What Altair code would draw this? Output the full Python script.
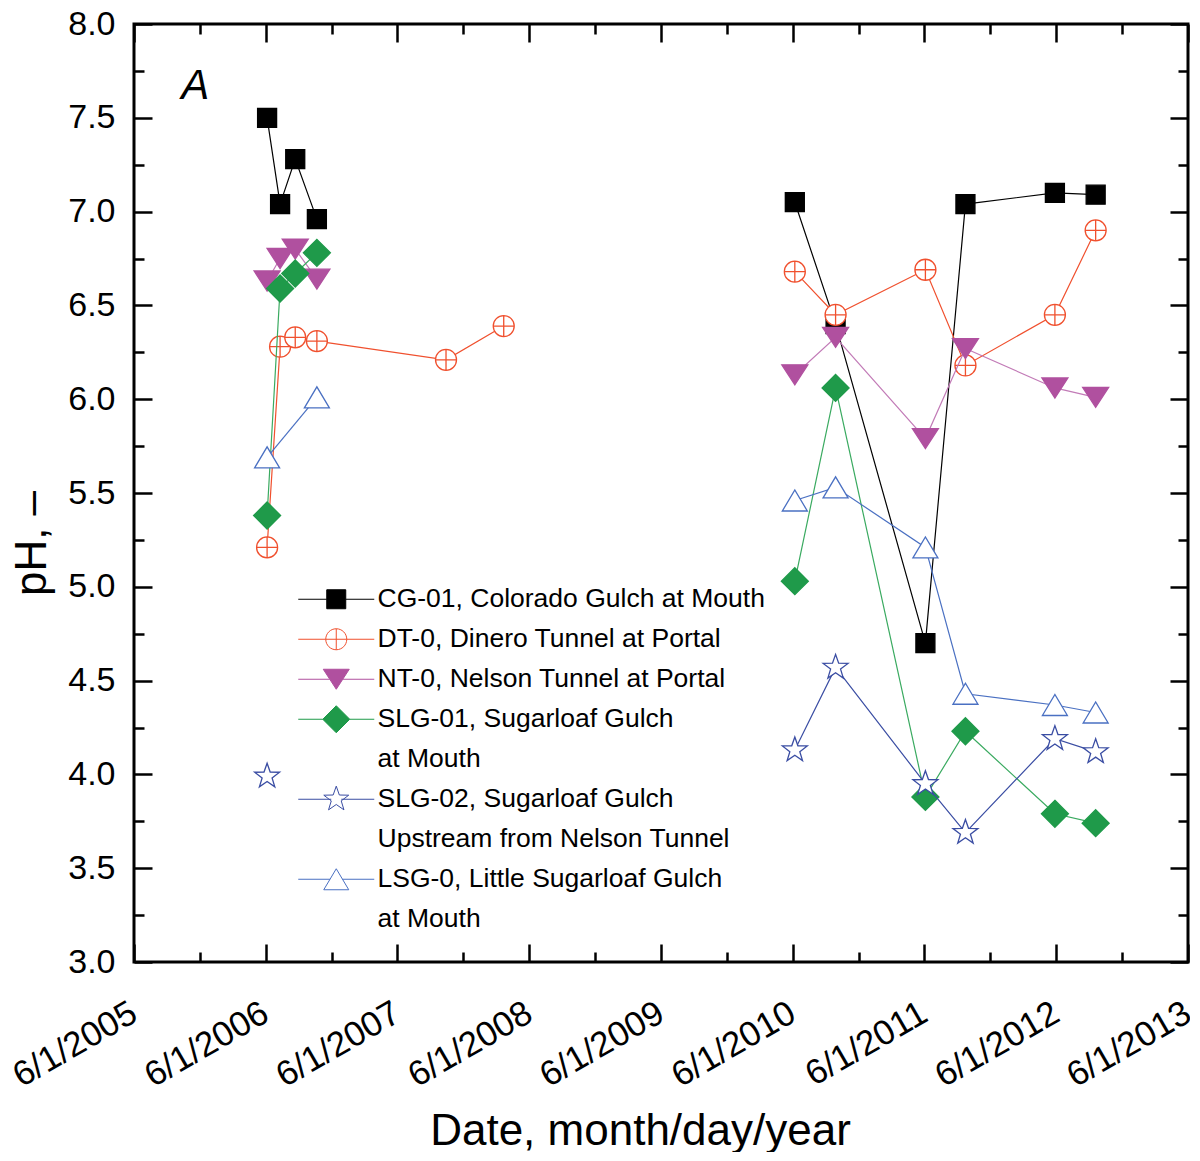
import altair as alt
import pandas as pd

# ---------------- data ----------------
SERIES = [
    "CG-01, Colorado Gulch at Mouth",
    "DT-0, Dinero Tunnel at Portal",
    "NT-0, Nelson Tunnel at Portal",
    "SLG-01, Sugarloaf Gulch",
    "SLG-02, Sugarloaf Gulch",
    "LSG-0, Little Sugarloaf Gulch",
]
# legend rows (second lines of the two-line entries are separate rows)
LEGEND_ROWS = [
    "CG-01, Colorado Gulch at Mouth",
    "DT-0, Dinero Tunnel at Portal",
    "NT-0, Nelson Tunnel at Portal",
    "SLG-01, Sugarloaf Gulch",
    "at Mouth",
    "SLG-02, Sugarloaf Gulch",
    "Upstream from Nelson Tunnel",
    "LSG-0, Little Sugarloaf Gulch",
    "at Mouth ",
]

dates_2006 = ["2006-06-05", "2006-07-11", "2006-08-22", "2006-10-21"]
dates_0708 = ["2007-10-14", "2008-03-22"]
dates_late = ["2010-06-07", "2010-09-28", "2011-06-04", "2011-09-23", "2012-05-28", "2012-09-18"]
dates_lsg_2006 = ["2006-06-05", "2006-10-21"]
dates_slg02_2006 = ["2006-06-05"]

cg_2006 = [7.50, 7.04, 7.28, 6.96]
cg_late = [7.05, 6.40, 4.70, 7.04, 7.10, 7.09]
dt_2006 = [5.21, 6.28, 6.33, 6.31]
dt_0708 = [6.21, 6.39]
dt_late = [6.68, 6.45, 6.69, 6.18, 6.45, 6.90]
nt_2006 = [6.63, 6.75, 6.80, 6.64]
nt_late = [6.13, 6.33, 5.79, 6.27, 6.06, 6.01]
slg01_2006 = [5.38, 6.59, 6.67, 6.78]
slg01_late = [5.03, 6.06, 3.88, 4.23, 3.79, 3.74]
slg02_2006 = [3.99]
slg02_late = [4.13, 4.57, 3.95, 3.69, 4.19, 4.12]
lsg_2006 = [5.69, 6.01]
lsg_late = [5.46, 5.53, 5.21, 4.43, 4.37, 4.33]

series_parts = {
    SERIES[0]: [(dates_2006, cg_2006, "a"), (dates_late, cg_late, "b")],
    SERIES[1]: [(dates_2006 + dates_0708, dt_2006 + dt_0708, "a"), (dates_late, dt_late, "b")],
    SERIES[2]: [(dates_2006, nt_2006, "a"), (dates_late, nt_late, "b")],
    SERIES[3]: [(dates_2006, slg01_2006, "a"), (dates_late, slg01_late, "b")],
    SERIES[4]: [(dates_slg02_2006, slg02_2006, "a"), (dates_late, slg02_late, "b")],
    SERIES[5]: [(dates_lsg_2006, lsg_2006, "a"), (dates_late, lsg_late, "b")],
}

rows = []
for name, parts in series_parts.items():
    for dts, vals, period in parts:
        for d, v in zip(dts, vals):
            rows.append({"series": name, "date": d + "T00:00:00", "pH": v, "period": period})
df = pd.DataFrame(rows)

major_years = list(range(2005, 2014))
minor_years = list(range(2005, 2013))
y_major = [3.0, 3.5, 4.0, 4.5, 5.0, 5.5, 6.0, 6.5, 7.0, 7.5, 8.0]
y_minor = [3.25, 3.75, 4.25, 4.75, 5.25, 5.75, 6.25, 6.75, 7.25, 7.75]

panel_label = "A"
panel_label_date = "2005-11-18T00:00:00"
panel_label_value = 7.60

# ---------------- styles ----------------
FONT = "Liberation Sans"
W, H = 1054, 938

COLORS = ["#000000", "#F0502E", "#B0509F", "#1F9A4A", "#3A4DA3", "#4A70C2"]
LINE_COLORS = ["#000000", "#F0502E", "#C27BB7", "#3AAA60", "#3A4DA3", "#4A70C2"]
FILLS = ["#000000", "#FFFFFF", "#B0509F", "#1F9A4A", "#FFFFFF", "#FFFFFF"]

SQ = "M-0.95,-0.95H0.95V0.95H-0.95Z"
CIRC = "M-1.05,0A1.05,1.05 0 1,1 1.05,0A1.05,1.05 0 1,1 -1.05,0ZM-1.05,0H1.05M0,-1.05V1.05"
TRI_D = "M-1.3,-1L1.3,-1L0,1Z"
DIAM = "M0,-1.35L1.35,0L0,1.35L-1.35,0Z"
STAR = ("M0,-1.31L0.308,-0.424L1.246,-0.405L0.498,0.162L0.77,1.06L0,0.524"
        "L-0.77,1.06L-0.498,0.162L-1.246,-0.405L-0.308,-0.424Z")
TRI_U = "M-1.25,1.05L1.25,1.05L0,-1.05Z"
SHAPES = [SQ, CIRC, TRI_D, DIAM, STAR, TRI_U]
EDGES = [0.95, 1.05, 0.65, 1.35, 0.5, 0.62]

def with_line(path, edge):
    return f"M-3.8,0H-{edge}M{edge},0H3.8" + path

LEG_SHAPES = [with_line(s, e) for s, e in zip(SHAPES, EDGES)]
LEGEND_STROKES = [COLORS[0], COLORS[1], COLORS[2], COLORS[3], "transparent",
                  COLORS[4], "transparent", COLORS[5], "transparent"]
LEGEND_FILLS = [FILLS[0], FILLS[1], FILLS[2], FILLS[3], "transparent",
                FILLS[4], "transparent", FILLS[5], "transparent"]
LEGEND_SHAPE_RANGE = [LEG_SHAPES[0], LEG_SHAPES[1], LEG_SHAPES[2], LEG_SHAPES[3], "M0,0",
                      LEG_SHAPES[4], "M0,0", LEG_SHAPES[5], "M0,0"]

X_SCALE = alt.Scale(domain=[alt.DateTime(year=2005, month=6, date=1),
                            alt.DateTime(year=2013, month=6, date=1)], nice=False)
Y_SCALE = alt.Scale(domain=[3, 8], nice=False, zero=False)

major_dt = [alt.DateTime(year=y, month=6, date=1) for y in major_years]
minor_dt = [alt.DateTime(year=y, month=12, date=1) for y in minor_years]


def helper(x_axis, y_axis):
    return alt.Chart(df).transform_filter("false").mark_point(opacity=0).encode(
        x=alt.X("date:T", scale=X_SCALE, axis=x_axis),
        y=alt.Y("pH:Q", scale=Y_SCALE, axis=y_axis),
    )


def tick_axis(orient, offset, values, size):
    return alt.Axis(orient=orient, offset=offset, values=values, labels=False, domain=False,
                    ticks=True, tickSize=size, tickWidth=2.5, tickColor="black",
                    grid=False, title=None)


x_main = alt.Axis(orient="bottom", values=major_dt, format="%-m/%-d/%Y", labelAngle=-30,
                  labelAlign="right", labelBaseline="top", labelFontSize=35, labelPadding=33,
                  labelOffset=-9,
                  labelFlush=False, labelOverlap=False, labelFont=FONT, labelColor="black",
                  labelBound=False,
                  ticks=False, tickSize=0, domain=False, grid=False,
                  title="Date, month/day/year", titleFontSize=44, titleFontWeight="normal",
                  titleFont=FONT, titleColor="black", titleX=506, titleY=182,
                  titleAlign="center", titleBaseline="alphabetic")
y_main = alt.Axis(orient="left", values=y_major, format=".1f", labelFontSize=34, labelPadding=19,
                  labelFont=FONT, labelColor="black", labelOverlap=False, labelFlush=False,
                  ticks=False, tickSize=0, domain=False, grid=False,
                  title="pH, –", titleFontSize=44, titleFontWeight="normal", titleFont=FONT,
                  titleColor="black", titleAngle=270, titleX=-102, titleY=519,
                  titleAlign="center", titleBaseline="middle")

layers = [
    helper(x_main, y_main),
    helper(tick_axis("top", -H, major_dt, 18), tick_axis("right", -W, y_major, 18)),
    helper(tick_axis("top", -H, minor_dt, 10), tick_axis("right", -W, y_minor, 10)),
    helper(tick_axis("bottom", -H, major_dt, 18), tick_axis("left", -W, y_major, 18)),
    helper(tick_axis("bottom", -H, minor_dt, 10), tick_axis("left", -W, y_minor, 10)),
]

for i, name in enumerate(SERIES):
    base = alt.Chart(df).transform_filter(alt.datum.series == name)
    line = base.mark_line(color=LINE_COLORS[i], strokeWidth=1.2).encode(
        x=alt.X("date:T", scale=X_SCALE, axis=None),
        y=alt.Y("pH:Q", scale=Y_SCALE, axis=None),
        detail="period:N",
    )
    pts = base.mark_point(shape=SHAPES[i], size=400, filled=True, fill=FILLS[i],
                          stroke=COLORS[i], strokeWidth=1.3, opacity=1).encode(
        x=alt.X("date:T", scale=X_SCALE, axis=None),
        y=alt.Y("pH:Q", scale=Y_SCALE, axis=None),
    )
    layers += [line, pts]

LEG = alt.Legend(title=None, orient="none", legendX=189, legendY=562, direction="vertical",
                 labelFontSize=26.5, labelFont=FONT, labelColor="black", labelLimit=700,
                 labelOffset=28, rowPadding=8, gridAlign="all", symbolSize=400,
                 symbolStrokeWidth=1, padding=0)
legend_layer = alt.Chart(df).transform_filter("false").mark_point(filled=True, opacity=1, size=400).encode(
    x=alt.X("date:T", scale=X_SCALE, axis=None),
    y=alt.Y("pH:Q", scale=Y_SCALE, axis=None),
    stroke=alt.Stroke("series:N", scale=alt.Scale(domain=LEGEND_ROWS, range=LEGEND_STROKES), legend=LEG),
    fill=alt.Fill("series:N", scale=alt.Scale(domain=LEGEND_ROWS, range=LEGEND_FILLS), legend=LEG),
    shape=alt.Shape("series:N", scale=alt.Scale(domain=LEGEND_ROWS, range=LEGEND_SHAPE_RANGE), legend=LEG),
)
layers.append(legend_layer)

label_df = pd.DataFrame({"date": [panel_label_date], "pH": [panel_label_value], "t": [panel_label]})
label_layer = alt.Chart(label_df).mark_text(fontSize=42, fontStyle="italic", font=FONT,
                                            align="center", baseline="alphabetic", color="black").encode(
    x=alt.X("date:T", scale=X_SCALE, axis=None),
    y=alt.Y("pH:Q", scale=Y_SCALE, axis=None),
    text="t:N",
)
layers.append(label_layer)

chart = alt.layer(*layers).resolve_axis(x="independent", y="independent").properties(
    width=W, height=H,
    autosize=alt.AutoSizeParams(type="none"),
    padding={"left": 126, "top": 16, "right": 2, "bottom": 190},
).configure_view(stroke="black", strokeWidth=3)

chart.save("out.html", embed_options={"renderer": "svg", "actions": False})
